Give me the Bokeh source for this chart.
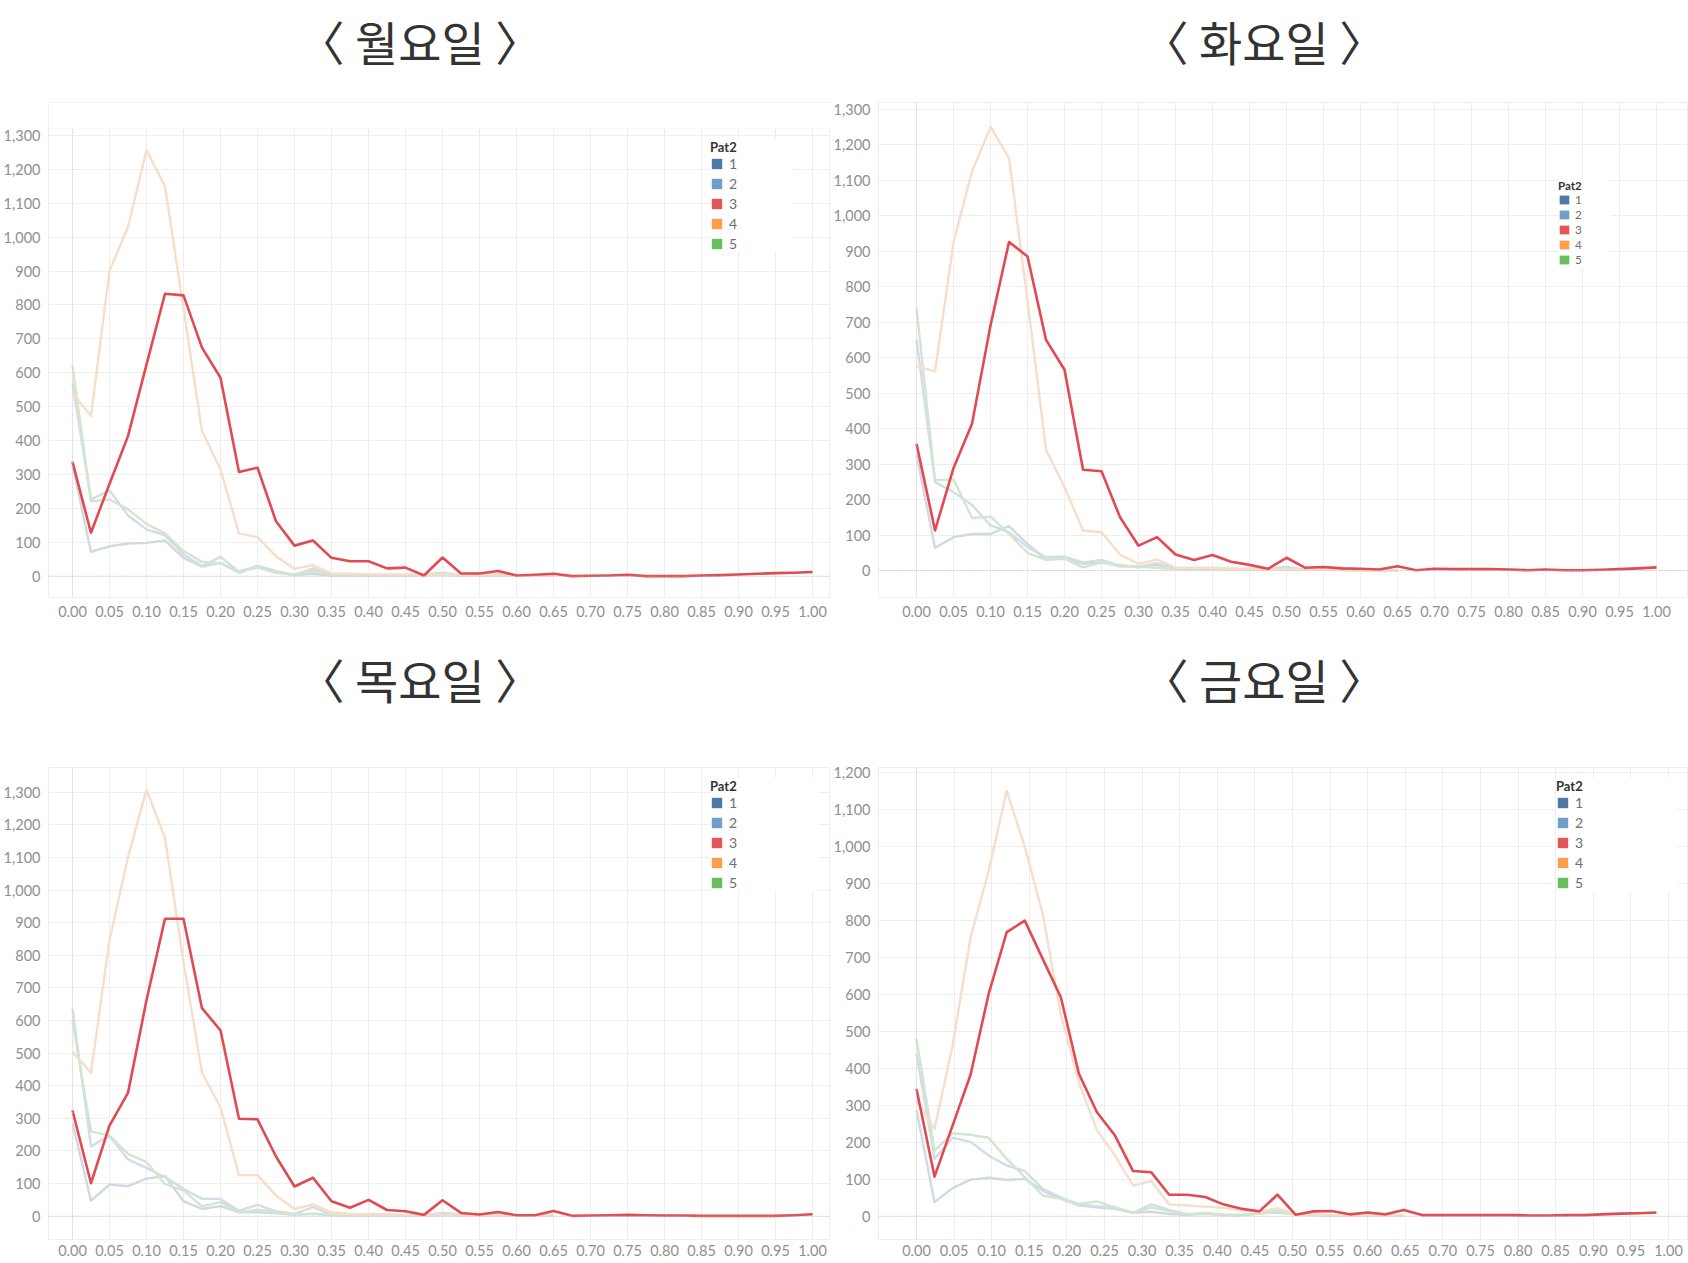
from bokeh.plotting import figure
from bokeh.layouts import row, column
from bokeh.models import (Span, NumeralTickFormatter, FixedTicker, Title, BoxAnnotation,
                          Legend, LegendItem, Range1d)
from bokeh.embed import file_html
from bokeh.resources import INLINE

# ---------------- data ----------------
BINS_025 = [0.000, 0.025, 0.050, 0.075, 0.100, 0.125, 0.150, 0.175, 0.200, 0.225,
            0.250, 0.275, 0.300, 0.325, 0.350, 0.375, 0.400, 0.425, 0.450, 0.475,
            0.500, 0.525, 0.550, 0.575, 0.600, 0.625, 0.650, 0.675, 0.700, 0.725,
            0.750, 0.775, 0.800, 0.825, 0.850, 0.875, 0.900, 0.925, 0.950, 0.975, 1.000]
BINS_024 = [0.000, 0.024, 0.048, 0.072, 0.096, 0.120, 0.144, 0.168, 0.192, 0.216,
            0.240, 0.264, 0.288, 0.312, 0.336, 0.360, 0.384, 0.408, 0.432, 0.456,
            0.480, 0.504, 0.528, 0.552, 0.576, 0.600, 0.624, 0.648, 0.672, 0.696,
            0.720, 0.744, 0.768, 0.792, 0.816, 0.840, 0.864, 0.888, 0.912, 0.936,
            0.960, 0.984]
X_TICKS = [0.00, 0.05, 0.10, 0.15, 0.20, 0.25, 0.30, 0.35, 0.40, 0.45, 0.50,
           0.55, 0.60, 0.65, 0.70, 0.75, 0.80, 0.85, 0.90, 0.95, 1.00]
Y_TICKS_1300 = [0, 100, 200, 300, 400, 500, 600, 700, 800, 900, 1000, 1100, 1200, 1300]
Y_TICKS_1200 = [0, 100, 200, 300, 400, 500, 600, 700, 800, 900, 1000, 1100, 1200]

PAT2 = ["1", "2", "3", "4", "5"]
DAYS = ["〈 월요일 〉", "〈 화요일 〉", "〈 목요일 〉", "〈 금요일 〉"]

MON_1 = [329, 72, 88, 96, 98, 105, 54, 28, 39, 10, 30, 15, 3, 7, 2, 2, 2, 2, 2, 3, 5, 2, 2, 3, 2, 1, 1]
MON_2 = [570, 226, 253, 179, 138, 120, 64, 30, 57, 13, 30, 12, 3, 23, 3, 3, 3, 2, 3, 4, 6, 3, 4, 6, 2, 2, 2]
MON_3 = [337, 128, 272, 413, 624, 833, 828, 674, 585, 307, 320, 162, 90, 105, 54, 44, 44, 23, 25, 2,
         55, 8, 8, 15, 2, 4, 7, 0, 1, 2, 4, 0, 0, 0, 2, 3, 5, 7, 9, 10, 12]
MON_4 = [541, 472, 900, 1030, 1256, 1150, 790, 428, 315, 126, 115, 59, 22, 32, 8, 7, 6, 5, 4, 3, 4, 2, 2, 2, 1, 1, 1]
MON_5 = [621, 221, 226, 197, 154, 126, 74, 42, 38, 15, 25, 10, 5, 15, 3, 3, 3, 3, 4, 5, 10, 4, 3, 4, 2, 2, 2]

TUE_1 = [326, 64, 94, 103, 103, 125, 75, 30, 35, 19, 23, 14, 9, 16, 4, 4, 5, 4, 3, 4, 5, 2, 2, 2, 1, 1, 1]
TUE_2 = [650, 249, 221, 185, 127, 108, 66, 38, 39, 23, 30, 14, 11, 21, 7, 6, 6, 5, 5, 6, 10, 3, 3, 2, 2, 1, 1]
TUE_3 = [357, 113, 289, 414, 691, 926, 885, 650, 566, 284, 280, 150, 70, 94, 45, 30, 44, 25, 16, 5,
         36, 8, 10, 6, 5, 3, 12, 1, 5, 4, 4, 4, 3, 1, 3, 1, 1, 2, 4, 6, 9]
TUE_4 = [576, 561, 926, 1125, 1250, 1162, 760, 340, 235, 113, 108, 45, 19, 31, 9, 8, 8, 5, 3, 2, 3, 2, 2, 1, 1, 1, 1]
TUE_5 = [738, 254, 257, 148, 152, 103, 50, 30, 33, 9, 23, 11, 11, 8, 4, 4, 4, 3, 3, 3, 4, 2, 2, 2, 1, 1, 1]

THU_1 = [285, 48, 97, 92, 115, 123, 46, 22, 31, 12, 12, 9, 5, 7, 3, 3, 3, 3, 3, 3, 6, 3, 3, 4, 2, 2, 2]
THU_2 = [636, 214, 247, 174, 148, 120, 84, 53, 53, 17, 35, 15, 7, 28, 5, 5, 5, 6, 4, 4, 10, 5, 5, 5, 3, 3, 3]
THU_3 = [324, 101, 278, 378, 662, 912, 912, 638, 570, 299, 297, 183, 91, 118, 46, 26, 50, 19, 15, 4,
         49, 10, 5, 13, 3, 3, 16, 1, 2, 3, 4, 3, 2, 2, 1, 1, 1, 1, 1, 3, 6]
THU_4 = [503, 440, 846, 1101, 1308, 1160, 780, 440, 334, 126, 126, 63, 22, 36, 12, 7, 5, 4, 3, 2, 3, 2, 2, 1, 1, 1, 1]
THU_5 = [600, 260, 247, 191, 166, 99, 79, 30, 43, 12, 20, 12, 5, 8, 4, 4, 4, 3, 3, 3, 5, 3, 3, 3, 2, 2, 2]

FRI_1 = [287, 38, 76, 99, 104, 98, 101, 69, 47, 29, 24, 20, 9, 12, 6, 4, 8, 3, 3, 7, 10, 5, 3, 3, 2, 2, 2, 2]
FRI_2 = [439, 155, 212, 201, 164, 137, 122, 74, 51, 31, 27, 24, 9, 32, 17, 5, 9, 4, 3, 8, 15, 6, 4, 3, 2, 2, 2, 2]
FRI_3 = [344, 107, 245, 383, 601, 768, 799, 695, 592, 385, 281, 218, 122, 119, 58, 58, 52, 32, 20, 13,
         58, 4, 13, 14, 5, 10, 5, 17, 3, 3, 3, 3, 3, 3, 2, 2, 3, 3, 5, 7, 8, 10]
FRI_4 = [313, 236, 461, 754, 934, 1150, 999, 816, 544, 362, 232, 164, 83, 95, 32, 29, 26, 23, 15, 11, 22, 5, 4, 3, 2, 2, 2, 2]
FRI_5 = [479, 177, 224, 220, 212, 155, 105, 56, 47, 33, 40, 24, 9, 24, 14, 6, 6, 4, 4, 8, 12, 6, 4, 3, 2, 2, 2, 2]

# ---------------- style ----------------
LEGEND_COLORS = ["#4E79A7", "#729ECE", "#E15759", "#FF9E4A", "#67BF5C"]
LINE_COLORS = ["#CFD9E4", "#D3DDE8", "#E04A50", "#F6DECB", "#D3E6CD"]
TICK_FONT = "Lato"
TICK_COLOR = "#8F8F8F"
GRID = "#EEEEEE"


def panel(title, bins, series, xr, yr, yticks, width, height, top, bottom, left,
          xstand, t_offset, gap, leg, plot_top=None):
    p = figure(width=width, height=height, x_range=Range1d(*xr), y_range=Range1d(*yr),
               output_backend="svg", toolbar_location=None, title=None,
               min_border_left=left, min_border_right=0,
               min_border_top=top, min_border_bottom=bottom)

    # spacer (nearest the frame) and the panel title above it
    p.add_layout(Title(text=" ", text_font_size="1px", standoff=gap), "above")
    p.add_layout(Title(text=title, text_font="Noto Sans CJK KR", text_font_size="47px",
                       text_font_style="normal", text_color="#333333",
                       align="left", offset=t_offset, standoff=0), "above")

    xt = FixedTicker(ticks=X_TICKS)
    yt = FixedTicker(ticks=yticks)
    p.xaxis.ticker = xt
    p.yaxis.ticker = yt
    p.xgrid.ticker = xt
    p.ygrid.ticker = yt
    p.xaxis.formatter = NumeralTickFormatter(format="0.00")
    p.yaxis.formatter = NumeralTickFormatter(format="0,0")
    for ax in (p.xaxis, p.yaxis):
        ax.axis_line_color = None
        ax.major_tick_line_color = None
        ax.minor_tick_line_color = None
        ax.major_tick_out = 0
        ax.major_tick_in = 0
        ax.minor_tick_out = 0
        ax.major_label_text_font = TICK_FONT
        ax.major_label_text_font_size = "14.5px"
        ax.major_label_text_color = TICK_COLOR
    p.xaxis.major_label_standoff = xstand
    p.yaxis.major_label_standoff = 8
    p.xgrid.grid_line_color = GRID
    p.ygrid.grid_line_color = GRID
    p.outline_line_color = GRID
    p.background_fill_color = "white"
    p.border_fill_color = "white"

    p.add_layout(Span(location=0, dimension="width", line_color="#C4C4C4",
                      line_dash="1 2", line_width=1))
    p.add_layout(Span(location=0, dimension="height", line_color="#D0D0D0",
                      line_dash="1 2", line_width=1))

    for i in (0, 1, 4, 3, 2):
        ys = series[i]
        p.line(x=bins[:len(ys)], y=ys, line_color=LINE_COLORS[i],
               line_width=2.6 if i == 2 else 2.4, line_join="round")

    if plot_top is not None:
        # the pane of this chart starts lower: blank the strip above it
        p.add_layout(BoxAnnotation(bottom=plot_top, fill_color="white", fill_alpha=1.0,
                                   line_color=GRID, line_width=1))

    items = []
    for i, name in enumerate(PAT2):
        ys = series[i]
        r = p.quad(left=bins[:1], right=bins[:1], bottom=ys[:1], top=ys[:1],
                   fill_color=LEGEND_COLORS[i], line_color=None)
        items.append(LegendItem(label=name, renderers=[r]))
    lg = Legend(items=items, location="top_right", title="Pat2",
                title_text_font="Lato", title_text_font_style="bold",
                title_text_font_size=leg["tfs"], title_text_color="#333333",
                title_standoff=leg["ts"],
                label_text_font=TICK_FONT, label_text_font_size=leg["lfs"],
                label_text_color="#6E6E6E",
                glyph_width=leg["gw"], glyph_height=leg["gh"],
                label_height=leg["lh"], label_width=leg["lw"], label_standoff=leg["ls"],
                spacing=leg["sp"], padding=leg["pad"], margin=leg["m"],
                border_line_color=None, background_fill_color="white",
                background_fill_alpha=1.0)
    p.add_layout(lg)
    return p


BIG_M = dict(tfs="13px", ts=0, lfs="14px", gw=13, gh=13, lh=15, sp=3, pad=8, m=37, ls=6, lw=64)
SMALL_T = dict(tfs="11.5px", ts=0, lfs="11.8px", gw=12, gh=11, lh=12, sp=0, pad=6, m=77, ls=5, lw=36)
BIG_TH = dict(BIG_M, m=11, lw=90)
BIG_F = dict(BIG_M, m=11, lw=102)

p_mon = panel(DAYS[0], BINS_025, [MON_1, MON_2, MON_3, MON_4, MON_5],
              (-0.0324, 1.0243), (-63, 1397), Y_TICKS_1300, 830, 638, 102, 41, 48, 8,
              249, 25, BIG_M, plot_top=1320)
p_tue = panel(DAYS[1], BINS_025, [TUE_1, TUE_2, TUE_3, TUE_4, TUE_5],
              (-0.0514, 1.0432), (-76, 1319), Y_TICKS_1300, 858, 638, 102, 41, 48, 8,
              263, 25, SMALL_T)
p_thu = panel(DAYS[2], BINS_025, [THU_1, THU_2, THU_3, THU_4, THU_5],
              (-0.0324, 1.0243), (-71.5, 1376), Y_TICKS_1300, 830, 624, 129, 23, 48, 5,
              249, 52, BIG_TH)
p_fri = panel(DAYS[3], BINS_024, [FRI_1, FRI_2, FRI_3, FRI_4, FRI_5],
              (-0.0505, 1.0266), (-63, 1213), Y_TICKS_1200, 858, 624, 129, 23, 48, 5,
              263, 52, BIG_F)

layout = column(row(p_mon, p_tue), row(p_thu, p_fri))

open("out.html", "w").write(file_html(layout, INLINE))
